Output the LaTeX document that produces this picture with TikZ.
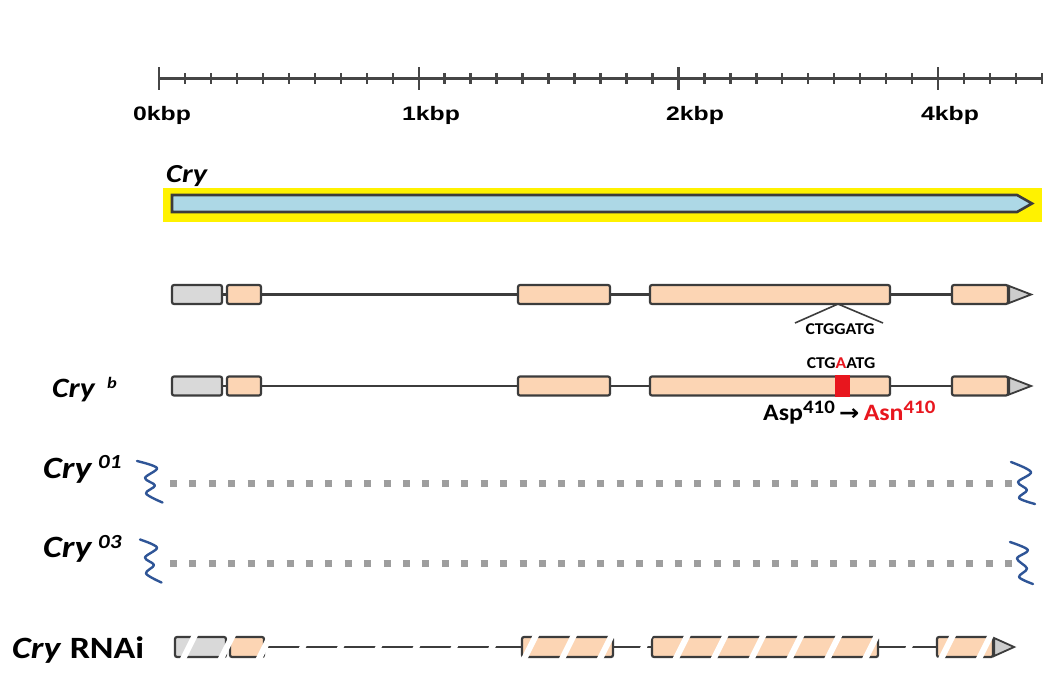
\documentclass[tikz,border=0pt]{standalone}
\usepackage{fontspec}
\setmainfont{Carlito}
\newfontfamily\arialf{Liberation Sans}
\newfontfamily\dejavu{DejaVu Sans}
\usetikzlibrary{calc}
\definecolor{bord}{RGB}{60,60,60}
\definecolor{peach}{RGB}{252,213,180}
\definecolor{gfill}{RGB}{217,217,217}
\definecolor{trifill}{RGB}{205,205,205}
\definecolor{sqgray}{RGB}{158,158,158}
\definecolor{sqblue}{RGB}{47,85,151}
\definecolor{mutred}{RGB}{232,22,30}
\definecolor{barblue}{RGB}{173,216,230}
\definecolor{ruler}{RGB}{70,70,70}
\begin{document}
\begin{tikzpicture}[x=1pt,y=-1pt,
  exon/.style={draw=bord, line width=2.2pt, rounded corners=2pt, minimum height=19pt, inner sep=0pt},
  intron/.style={draw=bord, line width=2.3pt},
  tri/.style={draw=bord, line width=1.8pt, fill=trifill, line join=miter},
  txt/.style={inner sep=0pt, anchor=base west},
  kbp/.style={inner sep=0pt, anchor=base, font=\arialf\bfseries\fontsize{19.5}{19.5}\selectfont, xscale=1.27},
  seq/.style={inner sep=0pt, anchor=base, font=\bfseries\fontsize{16.5}{16.5}\selectfont, xscale=1.07},
  lab/.style={inner sep=0pt, anchor=base west, font=\bfseries\itshape\fontsize{31}{31}\selectfont, xscale=1.16},
  suplab/.style={inner sep=0pt, anchor=base west, font=\bfseries\itshape\fontsize{20}{20}\selectfont, xscale=1.15},
  squig/.style={draw=sqblue, line width=2.4pt, line cap=round, line join=round},
  dots/.style={draw=sqgray, line width=7pt, dash pattern=on 7pt off 12.42pt},
  slash/.style={draw=white, line width=6pt}]
\useasboundingbox[fill=white] (0,0) rectangle (1043,694);

% ---- ruler ----
\coordinate (r0) at (159,78);
\coordinate (r1) at (1043,78);
\draw[ruler, line width=3pt] (r0) -- (r1);
\foreach \i in {0,...,34}{
  \pgfmathsetmacro\tx{159+25.97*\i}
  \pgfmathtruncatemacro\md{mod(\i,10)}
  \ifnum\md=0
    \draw[ruler, line width=2.4pt] (\tx,67) -- (\tx,90);
  \else
    \draw[ruler, line width=2.4pt] (\tx,73) -- (\tx,84);
  \fi
}
\node[kbp] (k0) at (162,120) {0kbp};
\node[kbp] (k1) at (431,120) {1kbp};
\node[kbp] (k2) at (695,120) {2kbp};
\node[kbp] (k4) at (950,120) {4kbp};

% ---- Cry transcript bar ----
\node[txt, font=\bfseries\itshape\fontsize{26}{26}\selectfont, xscale=1.17] (crytop) at (166,182) {Cry};
\fill[yellow] (163,188) rectangle (1042,222);
\draw[draw=bord, line width=2.6pt, fill=barblue, line join=miter]
  (172,195) -- (1017,195) -- (1032,203.5) -- (1017,212) -- (172,212) -- cycle;

% ---- gene models (wild type and Cry b) ----
\foreach \r/\y in {a/294.5,b/386}{
  \node[exon, fill=gfill, minimum width=50pt] (\r1) at (197,\y) {};
  \node[exon, fill=peach, minimum width=34pt] (\r2) at (244,\y) {};
  \node[exon, fill=peach, minimum width=92pt] (\r3) at (564,\y) {};
  \node[exon, fill=peach, minimum width=240pt] (\r4) at (770,\y) {};
  \node[exon, fill=peach, minimum width=56pt] (\r5) at (980,\y) {};
  \draw[intron] (\r1) -- (\r2);
  \draw[intron] (\r2) -- (\r3);
  \draw[intron] (\r3) -- (\r4);
  \draw[intron] (\r4) -- (\r5);
  \filldraw[tri] ([yshift=-8.5pt]\r5.east) -- ([xshift=22pt]\r5.east) -- ([yshift=8.5pt]\r5.east) -- cycle;
}

% wild-type site
\coordinate (apex) at (838,304);
\coordinate (sl) at (795,323);
\coordinate (sr) at (883,323);
\draw[draw=bord, line width=1.6pt] (sl) -- (apex) -- (sr);
\node[seq] (wtseq) at (840,334) {CTGGATG};

% mutant site
\node[seq] (mutseq) at (841,368.5) {CTG\textcolor{mutred}{A}ATG};
\fill[mutred] (835,375) rectangle (850,397);
\node[txt, font=\bfseries\fontsize{23.5}{23.5}\selectfont, xscale=1.1] (aa) at (763,420)
  {Asp\raisebox{7pt}{\fontsize{19}{19}\selectfont 410}\,{\dejavu\bfseries\fontsize{22}{22}\selectfont →}\,\textcolor{mutred}{Asn\raisebox{7pt}{\fontsize{19}{19}\selectfont 410}}};

% ---- left labels ----
\node[txt, font=\bfseries\itshape\fontsize{28}{28}\selectfont, xscale=1.13] (lb) at (52,397) {Cry};
\node[txt, font=\bfseries\itshape\fontsize{16}{16}\selectfont, xscale=1.15] (lbs) at (107,388) {b};
\node[lab] (l01) at (43,478) {Cry};
\node[suplab] (l01s) at (98,468) {01};
\node[lab] (l03) at (43,557) {Cry};
\node[suplab] (l03s) at (98,548) {03};
\node[txt, font=\bfseries\fontsize{31}{31}\selectfont, xscale=1.16] (lr) at (12,658) {\textit{Cry} RNAi};

% ---- deletion alleles ----
\coordinate (d1a) at (170,483);
\coordinate (d1b) at (1012,483);
\draw[dots] (d1a) -- (d1b);
\draw[squig] plot[smooth, tension=0.55] coordinates {(137,461) (157,468) (145,478) (155,485.5) (146,493.5) (162.5,502.5)};
\draw[squig] plot[smooth, tension=0.55] coordinates {(1011,462) (1031,472) (1018,482) (1027,490) (1019,498) (1035,504)};
\coordinate (d3a) at (170,563);
\coordinate (d3b) at (1012,563);
\draw[dots] (d3a) -- (d3b);
\draw[squig] plot[smooth, tension=0.55] coordinates {(140,539.5) (157,547.5) (145,557.5) (154,565) (146,573.5) (161.5,582.5)};
\draw[squig] plot[smooth, tension=0.55] coordinates {(1010,542) (1028,550) (1017,558.5) (1027,568.5) (1019,577) (1033,584)};

% ---- RNAi ----
\begin{scope}
\node[exon, fill=gfill, minimum width=51pt, minimum height=20pt] (c1) at (200.5,647) {};
\node[exon, fill=peach, minimum width=34pt, minimum height=20pt] (c2) at (247,647) {};
\node[exon, fill=peach, minimum width=91pt, minimum height=20pt] (c3) at (567.5,647) {};
\node[exon, fill=peach, minimum width=226pt, minimum height=20pt] (c4) at (765,647) {};
\node[exon, fill=peach, minimum width=56pt, minimum height=20pt] (c5) at (965,647) {};
\draw[intron] (c1) -- (c2);
\draw[intron] (c2) -- (c3);
\draw[intron] (c3) -- (c4);
\draw[intron] (c4) -- (c5);
\filldraw[tri] ([yshift=-9pt]c5.east) -- ([xshift=20pt]c5.east) -- ([yshift=9pt]c5.east) -- cycle;
\foreach \k in {0,...,21}{
  \pgfmathsetmacro\sx{189+37.9*\k}
  \draw[slash] (\sx-7,661) -- (\sx+7,633);
}
\end{scope}
\end{tikzpicture}
\end{document}
